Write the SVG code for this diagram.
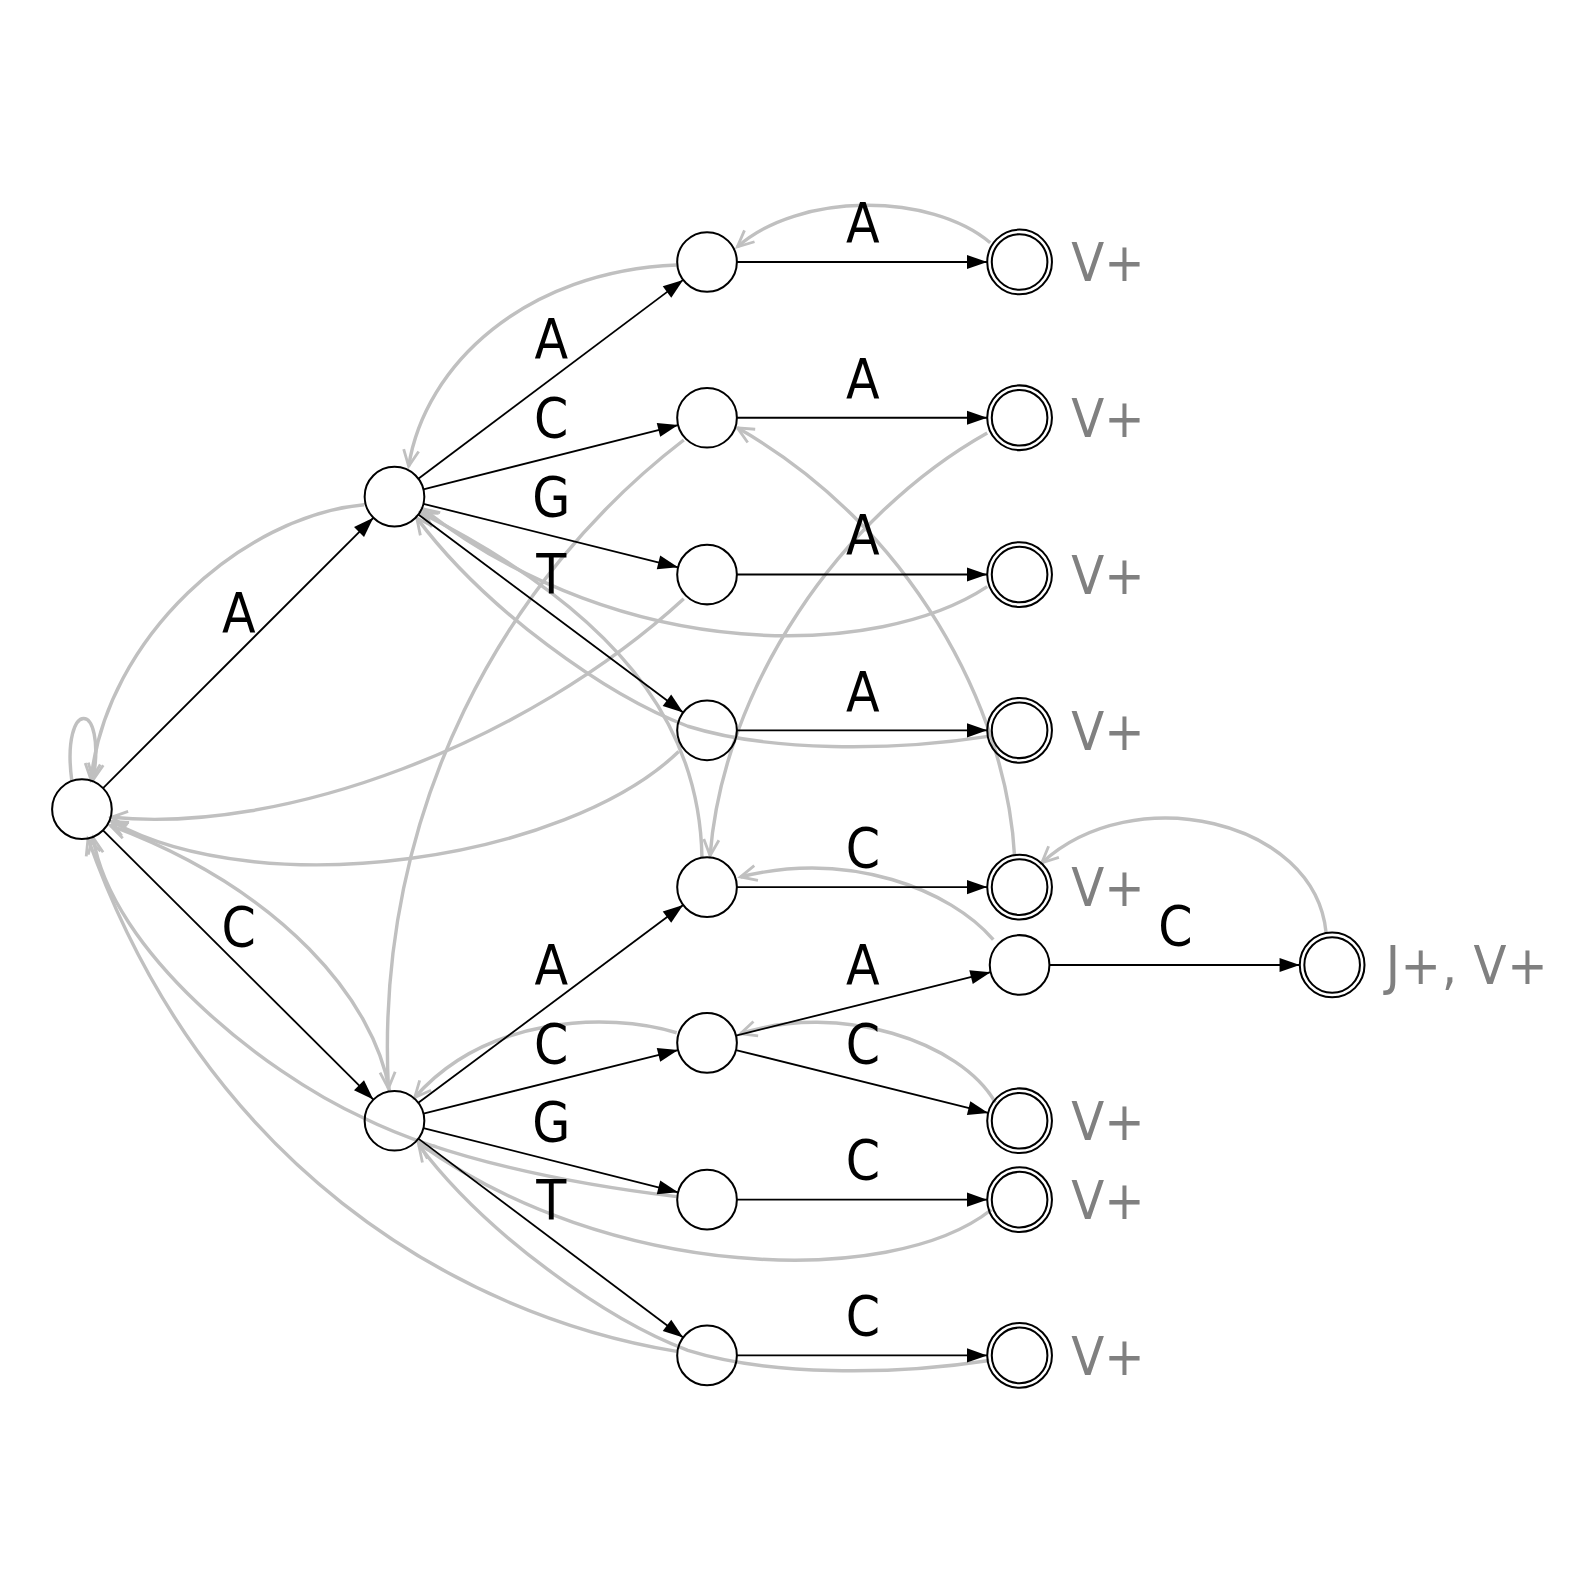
<svg xmlns="http://www.w3.org/2000/svg" width="1585" height="1585" viewBox="0 0 1585 1585">
<defs>
<style>
.n{fill:none;stroke:#000;stroke-width:2}
.e{fill:none;stroke:#000;stroke-width:1.8;marker-end:url(#ab)}
.f{fill:none;stroke:#c0c0c0;stroke-width:3.4;marker-end:url(#ag)}
.l{font-family:'DejaVu Sans Condensed','DejaVu Sans',sans-serif;font-stretch:condensed;font-size:54px;fill:#000;text-anchor:middle}
.o{font-family:'DejaVu Sans Condensed','DejaVu Sans',sans-serif;font-stretch:condensed;font-size:53px;fill:#808080}
</style>
<marker id="ab" markerUnits="userSpaceOnUse" markerWidth="22" markerHeight="16" refX="20" refY="7" orient="auto" overflow="visible"><path d="M0,0L20,7L0,14Z" fill="#000"/></marker>
<marker id="ag" markerUnits="userSpaceOnUse" markerWidth="20" markerHeight="20" refX="16" refY="7.5" orient="auto" overflow="visible"><path d="M0,0L16,7.5L0,15" fill="none" stroke="#c0c0c0" stroke-width="2.8"/></marker>
</defs>
<rect width="1585" height="1585" fill="#fff"/>
<g transform="scale(1.0115)">
<g id="connectors">
<!-- failure links -->
<path class="f" d="M71,772 C60,690 106,690 92,771"/>
<path class="f" d="M360,499 C240,510 105,630 90,771"/>
<path class="f" d="M669,262 C520,268 420,360 404,461"/>
<path class="f" d="M979,240 C920,190 790,190 729,244"/>
<path class="f" d="M676,435 C500,570 370,800 384,1076"/>
<path class="f" d="M976,428 C830,510 715,680 702,846"/>
<path class="f" d="M676,592 C520,735 280,825 110,808"/>
<path class="f" d="M976,580 C870,650 620,660 418,503"/>
<path class="f" d="M671,743 C560,850 260,895 110,812"/>
<path class="f" d="M977,728 C880,743 760,743 680,718 C600,688 480,603 412,512"/>
<path class="f" d="M694,848 C692,740 640,620 416,507"/>
<path class="f" d="M1003,846 C995,700 900,520 729,423"/>
<path class="f" d="M1311,922 C1300,810 1120,770 1030,853"/>
<path class="f" d="M982,929 C940,880 840,840 732,867"/>
<path class="f" d="M669,1021 C600,1000 480,1005 410,1085"/>
<path class="f" d="M984,1090 C950,1030 830,990 732,1022"/>
<path class="f" d="M669,1183 C560,1170 440,1145 359,1105 C260,1060 110,940 92,828"/>
<path class="f" d="M385,1078 C370,990 280,880 109,816"/>
<path class="f" d="M980,1196 C880,1275 600,1265 414,1130"/>
<path class="f" d="M669,1336 C450,1300 200,1150 87,829"/>
<path class="f" d="M978,1345 C880,1360 760,1360 680,1335 C600,1305 480,1220 414,1132"/>
<!-- goto edges -->
<path class="e" d="M101.9,779.1 L369.1,511.9"/>
<path class="e" d="M101.9,820.9 L369.1,1087.1"/>
<path class="e" d="M413.6,473.3 L675.4,276.7"/>
<path class="e" d="M418.6,483.8 L670.4,420.2"/>
<path class="e" d="M418.6,498.1 L670.4,560.9"/>
<path class="e" d="M413.6,508.7 L675.4,704.3"/>
<path class="e" d="M413.6,1090.3 L675.4,894.7"/>
<path class="e" d="M418.6,1100.9 L670.4,1038.1"/>
<path class="e" d="M418.6,1115.2 L670.4,1178.8"/>
<path class="e" d="M413.6,1125.7 L675.4,1322.3"/>
<path class="e" d="M728.5,259 L976,259"/>
<path class="e" d="M728.5,413 L976,413"/>
<path class="e" d="M728.5,568 L976,568"/>
<path class="e" d="M728.5,722 L976,722"/>
<path class="e" d="M728.5,877 L976,877"/>
<path class="e" d="M727.6,1023.9 L979.4,961.1"/>
<path class="e" d="M727.6,1038.1 L977,1100.3"/>
<path class="e" d="M728.5,1186 L976,1186"/>
<path class="e" d="M728.5,1340 L976,1340"/>
<path class="e" d="M1037.5,954 L1285,954"/>
<!-- edge labels -->
<text class="l" x="236" y="625">A</text>
<text class="l" x="236" y="935">C</text>
<text class="l" x="545" y="354">A</text>
<text class="l" x="545" y="432">C</text>
<text class="l" x="545" y="510">G</text>
<text class="l" x="545" y="586">T</text>
<text class="l" x="853" y="239">A</text>
<text class="l" x="853" y="393">A</text>
<text class="l" x="853" y="548">A</text>
<text class="l" x="853" y="703">A</text>
<text class="l" x="853" y="857">C</text>
<text class="l" x="545" y="973">A</text>
<text class="l" x="545" y="1051">C</text>
<text class="l" x="545" y="1128">G</text>
<text class="l" x="545" y="1205">T</text>
<text class="l" x="853" y="973">A</text>
<text class="l" x="853" y="1051">C</text>
<text class="l" x="853" y="1166">C</text>
<text class="l" x="853" y="1320">C</text>
<text class="l" x="1162" y="934">C</text>
</g>
<g id="n-root"><circle class="n" cx="81" cy="800" r="29.5"/></g>
<g id="n-A"><circle class="n" cx="390" cy="491" r="29.5"/></g>
<g id="n-C"><circle class="n" cx="390" cy="1108" r="29.5"/></g>
<g id="n-AA"><circle class="n" cx="699" cy="259" r="29.5"/></g>
<g id="n-AC"><circle class="n" cx="699" cy="413" r="29.5"/></g>
<g id="n-AG"><circle class="n" cx="699" cy="568" r="29.5"/></g>
<g id="n-AT"><circle class="n" cx="699" cy="722" r="29.5"/></g>
<g id="n-CA"><circle class="n" cx="699" cy="877" r="29.5"/></g>
<g id="n-CC"><circle class="n" cx="699" cy="1031" r="29.5"/></g>
<g id="n-CG"><circle class="n" cx="699" cy="1186" r="29.5"/></g>
<g id="n-CT"><circle class="n" cx="699" cy="1340" r="29.5"/></g>
<g id="n-AAA"><circle class="n" cx="1008" cy="259" r="32"/><circle class="n" cx="1008" cy="259" r="27.5"/><text class="o" x="1059" y="278">V+</text></g>
<g id="n-ACA"><circle class="n" cx="1008" cy="413" r="32"/><circle class="n" cx="1008" cy="413" r="27.5"/><text class="o" x="1059" y="432">V+</text></g>
<g id="n-AGA"><circle class="n" cx="1008" cy="568" r="32"/><circle class="n" cx="1008" cy="568" r="27.5"/><text class="o" x="1059" y="587">V+</text></g>
<g id="n-ATA"><circle class="n" cx="1008" cy="722" r="32"/><circle class="n" cx="1008" cy="722" r="27.5"/><text class="o" x="1059" y="741">V+</text></g>
<g id="n-CAC"><circle class="n" cx="1008" cy="877" r="32"/><circle class="n" cx="1008" cy="877" r="27.5"/><text class="o" x="1059" y="896">V+</text></g>
<g id="n-CCA"><circle class="n" cx="1008" cy="954" r="29.5"/></g>
<g id="n-CCC"><circle class="n" cx="1008" cy="1108" r="32"/><circle class="n" cx="1008" cy="1108" r="27.5"/><text class="o" x="1059" y="1127">V+</text></g>
<g id="n-CGC"><circle class="n" cx="1008" cy="1186" r="32"/><circle class="n" cx="1008" cy="1186" r="27.5"/><text class="o" x="1059" y="1205">V+</text></g>
<g id="n-CTC"><circle class="n" cx="1008" cy="1340" r="32"/><circle class="n" cx="1008" cy="1340" r="27.5"/><text class="o" x="1059" y="1359">V+</text></g>
<g id="n-CCAC"><circle class="n" cx="1317" cy="954" r="32"/><circle class="n" cx="1317" cy="954" r="27.5"/><text class="o" x="1370" y="973" textLength="160" lengthAdjust="spacing">J+, V+</text></g>
</g>
</svg>
